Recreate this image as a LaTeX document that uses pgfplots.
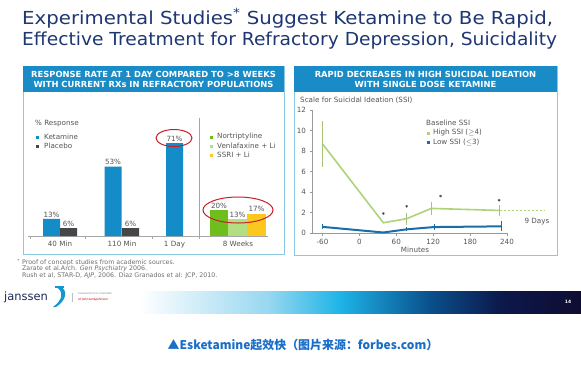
\documentclass[border=0pt]{standalone}
\usepackage{pgfplots}
\pgfplotsset{compat=1.18}
\usepackage{fontspec}
\setmainfont{DejaVu Sans}
\newfontfamily\cjk{Noto Sans CJK SC}
\definecolor{titleblue}{RGB}{30,55,115}
\definecolor{headerblue}{RGB}{25,140,200}
\definecolor{panelborder}{RGB}{140,200,225}
\definecolor{ketblue}{RGB}{20,140,200}
\definecolor{placebo}{RGB}{70,70,72}
\definecolor{nortgreen}{RGB}{110,190,30}
\definecolor{venlagreen}{RGB}{180,222,130}
\definecolor{ssriyellow}{RGB}{252,200,30}
\definecolor{ellred}{RGB}{200,30,40}
\definecolor{hsgreen}{RGB}{175,212,120}
\definecolor{lsblue}{RGB}{25,110,170}
\definecolor{labelgrey}{RGB}{85,85,85}
\definecolor{footgrey}{RGB}{110,110,110}
\definecolor{capblue}{RGB}{25,110,200}
\definecolor{logonavy}{RGB}{25,40,90}
\definecolor{logoblue}{RGB}{20,150,210}
\newcommand{\sm}{\fontsize{7.2}{8}\selectfont}
\begin{document}
\begin{tikzpicture}
\begin{scope}[x=1bp,y=-1bp]
\useasboundingbox (0,0) rectangle (581,366);
\fill[white] (0,0) rectangle (581,366);
% title
\node[anchor=base west, inner sep=0, text=titleblue, font=\fontsize{18}{20}\selectfont] at (22,24) {\scalebox{1.1}[1]{Experimental Studies\textsuperscript{*} Suggest Ketamine to Be Rapid,}};
\node[anchor=base west, inner sep=0, text=titleblue, font=\fontsize{18}{20}\selectfont] at (22,45) {\scalebox{1.04}[1]{Effective Treatment for Refractory Depression, Suicidality}};
% panels
\draw[panelborder, line width=1bp] (23,66) rectangle (284,254);
\fill[headerblue] (23,66) rectangle (284,92);
\draw[panelborder, line width=1bp] (294,66) rectangle (557,255);
\fill[headerblue] (294,66) rectangle (557,92);
\node[text=white, font=\bfseries\fontsize{8.4}{9.6}\selectfont, align=center] at (153.5,79.5) {RESPONSE RATE AT 1 DAY COMPARED TO >8 WEEKS\\WITH CURRENT RXs IN REFRACTORY POPULATIONS};
\node[text=white, font=\bfseries\fontsize{8.4}{9.6}\selectfont, align=center] at (425.5,79.5) {RAPID DECREASES IN HIGH SUICIDAL IDEATION\\WITH SINGLE DOSE KETAMINE};
\end{scope}

% ---- left chart
\begin{axis}[at={(28bp,-236bp)}, anchor=south west, scale only axis,
  width=240bp, height=104.8bp, xmin=28, xmax=268, ymin=0, ymax=80,
  axis y line=none, axis x line*=bottom,
  x axis line style={draw=gray!70, -},
  xtick={60,122,174.5,238}, xticklabels={40 Min,110 Min,1 Day,8 Weeks},
  major tick length=0pt,
  /pgf/number format/assume math mode=true,
  tick label style={font=\sm, text=labelgrey},
  xticklabel style={yshift=-1.5bp},
  extra x ticks={30,85,152,199}, extra x tick labels={},
  extra x tick style={major tick length=3bp, tick align=outside, tick style={draw=gray!70}},
  clip=false,
  nodes near coords={\pgfmathprintnumber{\pgfplotspointmeta}\%},
  every node near coord/.style={font=\sm, text=labelgrey, inner sep=1.5bp}]
\addplot[ybar, bar width=17, bar shift=0pt, fill=ketblue, draw=none] coordinates {(51.5,13) (113,53) (174.5,71)};
\addplot[ybar, bar width=17, bar shift=0pt, fill=placebo, draw=none] coordinates {(68.5,6) (130.5,6)};
\addplot[ybar, bar width=18.5, bar shift=0pt, fill=nortgreen, draw=none] coordinates {(219,20)};
\addplot[ybar, bar width=18.5, bar shift=0pt, fill=venlagreen, draw=none] coordinates {(237.5,13)};
\addplot[ybar, bar width=18.5, bar shift=0pt, fill=ssriyellow, draw=none] coordinates {(256.5,17)};
\end{axis}

% ---- right chart
\begin{axis}[at={(312bp,-233bp)}, anchor=south west, scale only axis,
  width=195bp, height=123bp, xmin=-77, xmax=240, ymin=0, ymax=12,
  axis x line*=bottom, axis y line*=left,
  axis line style={draw=gray!80, -},
  xtick={-60,0,60,120,180,240}, ytick={0,2,4,6,8,10,12},
  tick align=outside, major tick length=2.5bp, tick style={draw=gray!80},
  /pgf/number format/assume math mode=true,
  tick label style={font=\sm, text=labelgrey},
  clip=false]
\addplot[hsgreen, line width=1.6bp, error bars/.cd, y dir=both, y explicit, error mark=none,
  error bar style={hsgreen!80!gray, line width=0.5bp}]
  coordinates {(-60,8.7) +- (0,2.25) (39,1.0) +- (0,0) (77,1.4) +- (0,0.6) (117,2.4) +- (0,0.6) (228,2.2) +- (0,0.5)};
\addplot[hsgreen, line width=1.3bp, dash pattern=on 2bp off 2bp] coordinates {(228,2.2) (300,2.2)};
\addplot[lsblue, line width=2bp, error bars/.cd, y dir=both, y explicit, error mark=none,
  error bar style={lsblue, line width=0.6bp}]
  coordinates {(-60,0.6) +- (0,0.25) (39,0.05) +- (0,0) (77,0.36) +- (0,0.2) (121,0.58) +- (0,0.3) (230,0.65) +- (0,0.5)};
\addplot[only marks, mark=asterisk, mark size=1.3bp, mark options={draw=placebo, line width=0.5bp}]
  coordinates {(39,1.9) (77,2.6) (132,3.6) (227,3.2)};
\end{axis}

\begin{scope}[x=1bp,y=-1bp]
% left chart decorations
\draw[gray!70, line width=0.6bp] (199,118) -- (199,239);
\draw[ellred, line width=1bp] (174,138) ellipse [x radius=18bp, y radius=8.5bp];
\draw[ellred, line width=1bp] (238,210) ellipse [x radius=35bp, y radius=13bp];
\node[anchor=west, inner sep=0, font=\sm, text=labelgrey] at (35,124) {\% Response};
\fill[ketblue] (36,135.5) rectangle +(3,3);
\node[anchor=west, inner sep=0, font=\sm, text=labelgrey] at (44,137) {Ketamine};
\fill[placebo] (36,144.5) rectangle +(3,3);
\node[anchor=west, inner sep=0, font=\sm, text=labelgrey] at (44,146) {Placebo};
\fill[nortgreen] (210,135.5) rectangle +(3,3);
\node[anchor=west, inner sep=0, font=\sm, text=labelgrey] at (217,137) {Nortriptyline};
\fill[venlagreen] (210,144.5) rectangle +(3,3);
\node[anchor=west, inner sep=0, font=\sm, text=labelgrey] at (217,146) {Venlafaxine + Li};
\fill[ssriyellow] (210,153.5) rectangle +(3,3);
\node[anchor=west, inner sep=0, font=\sm, text=labelgrey] at (217,155) {SSRI + Li};
% right chart texts
\node[anchor=west, inner sep=0, font=\sm, text=labelgrey] at (300,100) {Scale for Suicidal Ideation (SSI)};
\node[anchor=west, inner sep=0, font=\sm, text=labelgrey] at (426,123) {Baseline SSI};
\fill[hsgreen] (427,131.5) rectangle +(3,3);
\node[anchor=west, inner sep=0, font=\sm, text=labelgrey] at (433,133) {High SSI (\(\geq\)4)};
\fill[lsblue] (427,140.5) rectangle +(3,3);
\node[anchor=west, inner sep=0, font=\sm, text=labelgrey] at (433,142) {Low SSI (\(\leq\)3)};
\node[inner sep=0, font=\sm, text=labelgrey] at (415,250) {Minutes};
\node[inner sep=0, font=\sm, text=labelgrey] at (537,222) {9 Days};
% footnotes
\node[anchor=base west, inner sep=0, font=\fontsize{4.5}{5}\selectfont, text=footgrey] at (17,262) {*};
\node[anchor=base west, inner sep=0, font=\fontsize{6.3}{6.5}\selectfont, text=footgrey] at (22,264) {Proof of concept studies from academic sources.};
\node[anchor=base west, inner sep=0, font=\fontsize{6.3}{6.5}\selectfont, text=footgrey] at (22,270.5) {Zarate et al.Arch. \textit{Gen Psychiatry} 2006.};
\node[anchor=base west, inner sep=0, font=\fontsize{6.3}{6.5}\selectfont, text=footgrey] at (22,277) {Rush et al, STAR-D, \textit{AJP}, 2006. Diaz Granados et al: JCP, 2010.};
% banner
\fill[white] (0,291) rectangle (140,313);
\shade[left color=white, right color={rgb,255:red,150;green,215;blue,240}] (139.5,291) rectangle (270,313);
\shade[left color={rgb,255:red,150;green,215;blue,240}, right color={rgb,255:red,30;green,180;blue,230}] (269.5,291) rectangle (340,313);
\shade[left color={rgb,255:red,30;green,180;blue,230}, right color={rgb,255:red,10;green,80;blue,140}] (339.5,291) rectangle (430,313);
\shade[left color={rgb,255:red,10;green,80;blue,140}, right color={rgb,255:red,12;green,25;blue,75}] (429.5,291) rectangle (500,313);
\shade[left color={rgb,255:red,12;green,25;blue,75}, right color={rgb,255:red,15;green,12;blue,50}] (499.5,291) rectangle (581,313);
\node[anchor=west, inner sep=0, text=logonavy, font=\fontsize{11.5}{12}\selectfont] at (4,297) {janssen};
\fill[logoblue] (56,287) .. controls (64,291) and (63,300) .. (53,307) -- (56,307) .. controls (67,300) and (68,290) .. (60,286) -- cycle;
\fill[logoblue] (55,286) rectangle (64,288);
\draw[gray!50, line width=0.4bp] (72,293) -- (72,302);
\node[anchor=west, inner sep=0, text=gray, font=\fontsize{2.2}{3}\selectfont] at (78,294) {PHARMACEUTICAL COMPANIES};
\node[anchor=west, inner sep=0, text=red!70!black, font=\itshape\fontsize{3}{3.5}\selectfont] at (78,299.5) {of Johnson\&Johnson};
\node[inner sep=0, text=white, font=\bfseries\fontsize{4.5}{5}\selectfont] at (568,302) {14};
% caption
\node[inner sep=0, text=capblue, font=\cjk\bfseries\fontsize{12}{14}\selectfont] at (303,345) {▲Esketamine起效快（图片来源：forbes.com）};
\end{scope}
\end{tikzpicture}
\end{document}
